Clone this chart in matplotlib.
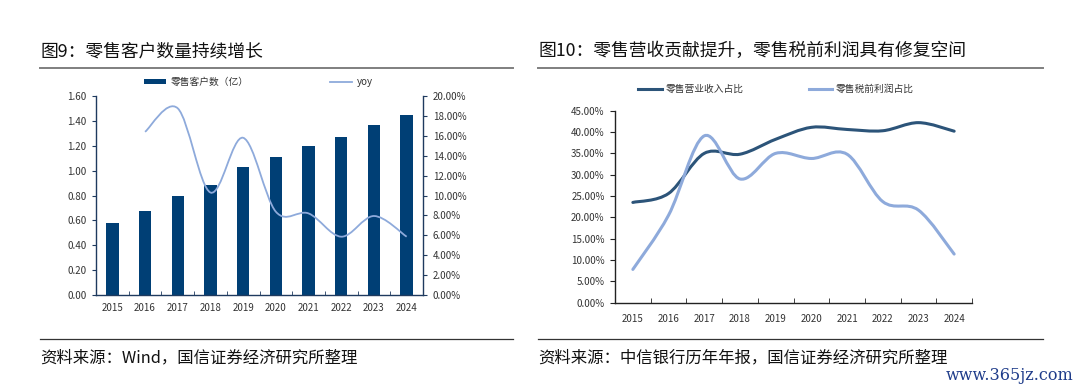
import matplotlib
matplotlib.use("Agg")
import matplotlib.pyplot as plt
from matplotlib.path import Path
from matplotlib.patches import PathPatch, Patch
from matplotlib.lines import Line2D
from matplotlib.ticker import FuncFormatter, FixedLocator, MultipleLocator
import numpy as np

plt.rcParams['font.family'] = ['Noto Sans CJK SC', 'DejaVu Sans']

# ---------------- data ----------------
years = ['2015', '2016', '2017', '2018', '2019', '2020', '2021', '2022', '2023', '2024']
retail_customers = [0.58, 0.675, 0.80, 0.882, 1.026, 1.112, 1.198, 1.268, 1.37, 1.447]   # 亿
yoy = [None, 16.4, 18.76, 10.3, 15.8, 8.37, 8.2, 5.86, 7.94, 5.86]                          # %
retail_revenue_share = [23.5, 25.6, 35.0, 34.8, 38.3, 41.1, 40.6, 40.3, 42.2, 40.2]        # %
retail_pretax_share = [7.8, 20.5, 39.1, 29.0, 35.0, 33.8, 34.8, 23.7, 21.7, 11.4]            # %

title_left = '图9：零售客户数量持续增长'
title_right = '图10：零售营收贡献提升，零售税前利润具有修复空间'
source_left = '资料来源：Wind，国信证券经济研究所整理'
source_right = '资料来源：中信银行历年年报，国信证券经济研究所整理'
legend_left = ['零售客户数（亿）', 'yoy']
legend_right = ['零售营业收入占比', '零售税前利润占比']

BAR = '#003f75'
NAVY_AX = '#1f3a5f'
LIGHT = '#8eaadb'
DARK_LINE = '#2c5479'
TXT = '#333333'


def smooth_path(xs, ys):
    """Bezier (Catmull-Rom style) path through the given points, like Excel's smoothed line."""
    pts = [(x, y) for x, y in zip(xs, ys) if y is not None]
    P = np.array(pts, dtype=float)
    n = len(P)
    verts = [tuple(P[0])]
    codes = [Path.MOVETO]
    for i in range(n - 1):
        p0 = P[i - 1] if i > 0 else P[i]
        p1 = P[i]
        p2 = P[i + 1]
        p3 = P[i + 2] if i + 2 < n else P[i + 1]
        c1 = p1 + (p2 - p0) / 6.0
        c2 = p2 - (p3 - p1) / 6.0
        verts += [tuple(c1), tuple(c2), tuple(p2)]
        codes += [Path.CURVE4] * 3
    return Path(verts, codes)


W, H = 1080, 391
fig = plt.figure(figsize=(W / 100, H / 100), dpi=100)
fig.patch.set_facecolor('white')


def fx(px):
    return px / W


def fy(py):
    return 1 - py / H


# titles and rules
fig.text(fx(40), fy(51), title_left, fontsize=12.8, color='#111111', va='center', ha='left')
fig.text(fx(538), fy(51), title_right, fontsize=12.8, color='#111111', va='center', ha='left')
for x0, x1 in [(40, 513), (538, 1043)]:
    fig.add_artist(Line2D([fx(x0), fx(x1)], [fy(68), fy(68)], color='#7f7f7f', lw=1.4))
    fig.add_artist(Line2D([fx(x0), fx(x1)], [fy(339), fy(339)], color='#333333', lw=0.9))
fig.text(fx(40), fy(358), source_left, fontsize=11.8, color='#111111', va='center', ha='left')
fig.text(fx(538), fy(358), source_right, fontsize=11.8, color='#111111', va='center', ha='left')
fig.text(fx(1073), fy(376), 'www.365jz.com', fontsize=11.5, color='#1f3c8a', va='center',
         ha='right', family=['DejaVu Serif'])

# ---------------- left chart ----------------
axL = fig.add_axes([fx(96), fy(295), fx(423 - 96), (295 - 96) / H])
x = np.arange(len(years))
axL.bar(x, retail_customers, width=0.38, color=BAR, zorder=2)
axL.set_xlim(-0.5, len(years) - 0.5)
axL.set_ylim(0, 1.6)
axL.yaxis.set_major_locator(MultipleLocator(0.2))
axL.yaxis.set_major_formatter(FuncFormatter(lambda v, p: f'{v:.2f}'))
axL.set_xticks(x)
axL.set_xticklabels(years)
axL.xaxis.set_minor_locator(FixedLocator(np.arange(0.5, len(years) - 0.5, 1)))
axL.tick_params(axis='x', which='major', length=0, pad=6, labelsize=7, labelcolor=TXT)
axL.tick_params(axis='x', which='minor', length=3, direction='in', color=NAVY_AX)
axL.tick_params(axis='y', length=3, direction='out', color=NAVY_AX, labelsize=7, labelcolor=TXT, pad=4)
for s in ['top', 'right']:
    axL.spines[s].set_visible(False)
for s in ['left', 'bottom']:
    axL.spines[s].set_color(NAVY_AX)
    axL.spines[s].set_linewidth(1.0)

axR2 = axL.twinx()
axR2.set_ylim(0, 20)
axR2.yaxis.set_major_locator(MultipleLocator(2))
axR2.yaxis.set_major_formatter(FuncFormatter(lambda v, p: f'{v:.2f}%'))
axR2.add_patch(PathPatch(smooth_path(x, yoy), fill=False, edgecolor=LIGHT, lw=1.3, zorder=3))
axR2.tick_params(axis='y', length=3, direction='out', color=NAVY_AX, labelsize=7, labelcolor=TXT, pad=4)
for s in ['top', 'left', 'bottom']:
    axR2.spines[s].set_visible(False)
axR2.spines['right'].set_color(NAVY_AX)
axR2.spines['right'].set_linewidth(1.0)

hL = [Patch(facecolor=BAR, edgecolor='none'), Line2D([0], [0], color=LIGHT, lw=1.3)]
leg = axL.legend(hL, legend_left, ncol=2, loc='center', bbox_to_anchor=(0.497, 1.07),
                 frameon=False, fontsize=7, handlelength=2.2, handleheight=0.5,
                 handletextpad=0.5, columnspacing=8.4, borderaxespad=0)
for t in leg.get_texts():
    t.set_color(TXT)

# ---------------- right chart ----------------
ax2 = fig.add_axes([fx(615), fy(302.7), fx(972 - 615), (302.7 - 110.7) / H])
ax2.set_xlim(-0.5, len(years) - 0.5)
ax2.set_ylim(0, 45)
ax2.yaxis.set_major_locator(MultipleLocator(5))
ax2.yaxis.set_major_formatter(FuncFormatter(lambda v, p: f'{v:.2f}%'))
ax2.add_patch(PathPatch(smooth_path(x, retail_revenue_share), fill=False, edgecolor=DARK_LINE,
                        lw=2.2, zorder=3, capstyle='round'))
ax2.add_patch(PathPatch(smooth_path(x, retail_pretax_share), fill=False, edgecolor=LIGHT,
                        lw=2.2, zorder=3, capstyle='round'))
ax2.set_xticks(x)
ax2.set_xticklabels(years)
ax2.xaxis.set_minor_locator(FixedLocator(np.arange(0.5, len(years), 1)))
ax2.tick_params(axis='x', which='major', length=0, pad=8, labelsize=7, labelcolor=TXT)
ax2.tick_params(axis='x', which='minor', length=3.5, direction='in', color='#222222')
ax2.tick_params(axis='y', length=3.5, direction='out', color='#222222', labelsize=7, labelcolor=TXT, pad=4)
for s in ['top', 'right']:
    ax2.spines[s].set_visible(False)
for s in ['left', 'bottom']:
    ax2.spines[s].set_color('#222222')
    ax2.spines[s].set_linewidth(1.0)

hR = [Line2D([0], [0], color=DARK_LINE, lw=2.2), Line2D([0], [0], color=LIGHT, lw=2.2)]
leg2 = ax2.legend(hR, legend_right, ncol=2, loc='center', bbox_to_anchor=(0.451, 1.113),
                  frameon=False, fontsize=7, handlelength=2.4, handletextpad=0.4,
                  columnspacing=6.7, borderaxespad=0)
for t in leg2.get_texts():
    t.set_color(TXT)

fig.savefig('out.png', dpi=100, facecolor='white')
